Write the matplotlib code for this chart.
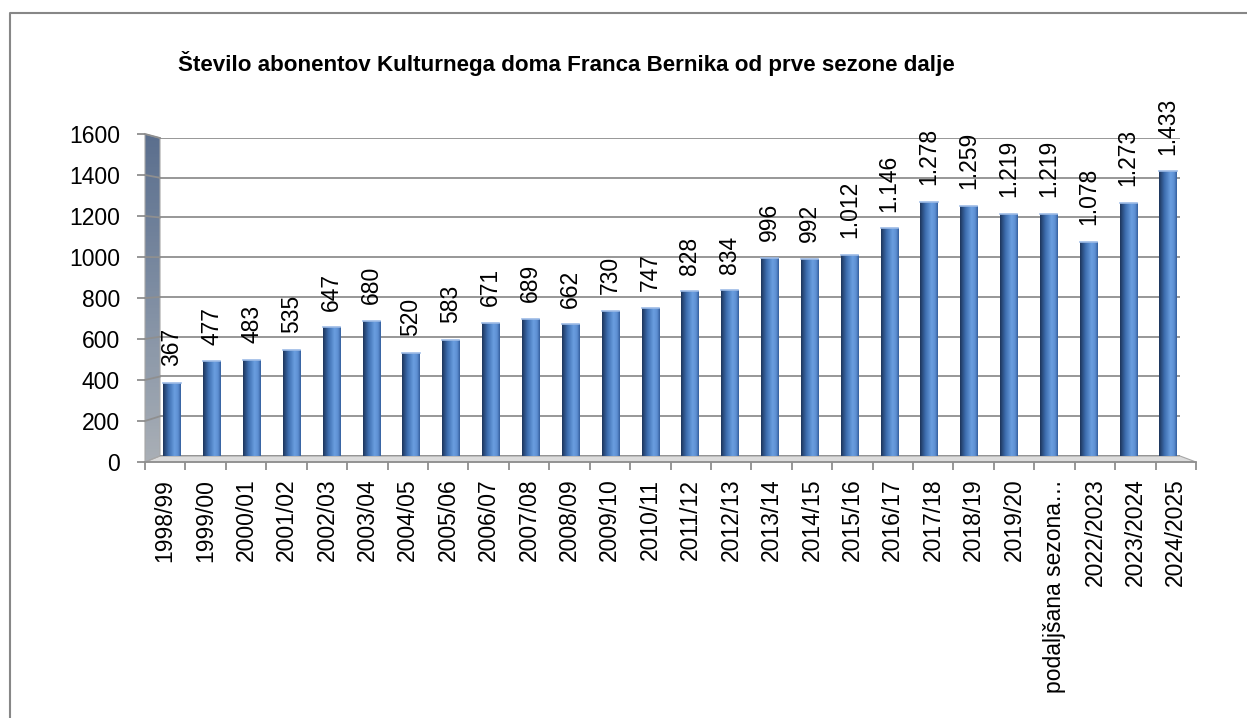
import matplotlib
matplotlib.use("Agg")
import matplotlib.pyplot as plt
import numpy as np
from matplotlib.colors import LinearSegmentedColormap
from matplotlib.patches import Polygon

plt.rcParams['font.family'] = ['Liberation Sans', 'DejaVu Sans']

seasons = ["1998/99", "1999/00", "2000/01", "2001/02", "2002/03", "2003/04",
           "2004/05", "2005/06", "2006/07", "2007/08", "2008/09", "2009/10",
           "2010/11", "2011/12", "2012/13", "2013/14", "2014/15", "2015/16",
           "2016/17", "2017/18", "2018/19", "2019/20", "podaljšana sezona…",
           "2022/2023", "2023/2024", "2024/2025"]
subscribers = [367, 477, 483, 535, 647, 680, 520, 583, 671, 689, 662, 730,
               747, 828, 834, 996, 992, 1012, 1146, 1278, 1259, 1219, 1219,
               1078, 1273, 1433]
y_ticks = [0, 200, 400, 600, 800, 1000, 1200, 1400, 1600]
title = "Število abonentov Kulturnega doma Franca Bernika od prve sezone dalje"

W, H = 1247, 718
fig = plt.figure(figsize=(W / 100, H / 100), dpi=100)
fig.patch.set_facecolor("white")


def pos(x0, y0, x1, y1):
    return [x0 / W, 1 - y1 / H, (x1 - x0) / W, (y1 - y0) / H]


n = len(subscribers)
GRID = "#8f8f8f"

# decoration layer in pixel coordinates
deco = fig.add_axes([0, 0, 1, 1], zorder=0)
deco.set_xlim(0, W)
deco.set_ylim(H, 0)
deco.axis("off")

# back (bars + gridlines)
ax = fig.add_axes(pos(160, 138, 1180, 456), zorder=1)
ax.patch.set_alpha(0)
step = 39.84
x_left = -(172 - 160) / step
x_right = (1180 - 172) / step
ax.set_xlim(x_left, x_right)
ax.set_ylim(0, 1600)
for s in ax.spines.values():
    s.set_visible(False)
ax.set_xticks([])
ax.set_yticks(y_ticks)
ax.tick_params(axis="y", length=0, labelleft=False)
ax.yaxis.grid(True, color=GRID, linewidth=1.3)
ax.set_axisbelow(True)

x = np.arange(n)
bars = ax.bar(x, subscribers, width=0.43, color="#4a7cc0", zorder=3)
cmap = LinearSegmentedColormap.from_list(
    "cyl", [(0.0, "#1d365c"), (0.3, "#3d6dae"), (0.65, "#6a9ee0"),
            (0.85, "#5d8fd2"), (1.0, "#35609e")])
grad = np.linspace(0, 1, 64).reshape(1, -1)
for b in bars:
    bx, by = b.get_x(), b.get_y()
    bw, bh = b.get_width(), b.get_height()
    im = ax.imshow(grad, cmap=cmap, aspect="auto",
                   extent=(bx, bx + bw, by, by + bh), zorder=4)
    im.set_clip_path(b)
    ax.plot([bx, bx + bw], [by + bh, by + bh], color="#9dbbe6", lw=1.2, zorder=5)
ax.set_xlim(x_left, x_right)
ax.set_ylim(0, 1600)

for xi, v in zip(x, subscribers):
    ax.annotate(f"{v:,}".replace(",", "."), (xi, v), xytext=(0, 12),
                textcoords="offset points", rotation=90, ha="center",
                va="bottom", fontsize=16.5, color="black", zorder=6)

# front axes (axis lines, ticks, labels)
fa = fig.add_axes(pos(145, 134, 1196, 462), zorder=2)
fa.patch.set_alpha(0)
fa.set_xlim(0, n)
fa.set_ylim(0, 1600)
for k in ["top", "right", "left"]:
    fa.spines[k].set_visible(False)
fa.spines["bottom"].set_color(GRID)
fa.spines["bottom"].set_linewidth(1.3)
fa.set_yticks(y_ticks)
fa.set_yticklabels([str(t) for t in y_ticks], fontsize=16.5)
fa.tick_params(axis="y", length=6, color=GRID, width=1.3, pad=12)
fa.set_xticks(np.arange(n + 1))
fa.set_xticklabels([])
fa.tick_params(axis="x", which="major", length=6, color=GRID, width=1.3)
fa.set_xticks(np.arange(n) + 0.5, minor=True)
fa.set_xticklabels(seasons, minor=True, rotation=90, fontsize=16.5)
fa.tick_params(axis="x", which="minor", length=0, pad=12)

# 3D wall and floor in pixel coords
def to_px(axes, xv, yv):
    dx, dy = axes.transData.transform((xv, yv))
    return dx, H - dy

fl0 = to_px(fa, 0, 0)
fl1 = to_px(fa, 0, 1600)
bl1 = to_px(ax, x_left, 1600)
bl0 = to_px(ax, x_left, 0)
br0 = to_px(ax, x_right, 0)
fr0 = to_px(fa, n, 0)

wall = Polygon([fl0, fl1, bl1, bl0], closed=True, facecolor="none",
               edgecolor="#a6a6a6", lw=0.8, zorder=2)
deco.add_patch(wall)
wcmap = LinearSegmentedColormap.from_list("wall", ["#5b6f8e", "#7f8ea3", "#a9afb6"])
wim = deco.imshow(np.linspace(0, 1, 100).reshape(-1, 1), cmap=wcmap, aspect="auto",
                  extent=(fl0[0], bl0[0], fl0[1], fl1[1]), zorder=1)
wim.set_clip_path(wall)
floor = Polygon([fl0, bl0, br0, fr0], closed=True, facecolor="#dcdcdc",
                edgecolor="#a6a6a6", lw=0.8, zorder=1)
deco.add_patch(floor)
for t in y_ticks[1:]:
    p0 = to_px(fa, 0, t)
    p1 = to_px(ax, x_left, t)
    deco.plot([p0[0], p1[0]], [p0[1], p1[1]], color=GRID, lw=1.3, zorder=3)
deco.set_xlim(0, W)
deco.set_ylim(H, 0)

# chart border
deco.plot([10, 10, W + 5], [H + 5, 13, 13], color="#878787", lw=1.5, zorder=5)

fig.text(566 / W, 1 - 64 / H, title, ha="center", va="center",
         fontsize=16.1, fontweight="bold",
         family=["Liberation Sans Narrow", "Liberation Sans"])

fig.savefig("out.png", dpi=100)
